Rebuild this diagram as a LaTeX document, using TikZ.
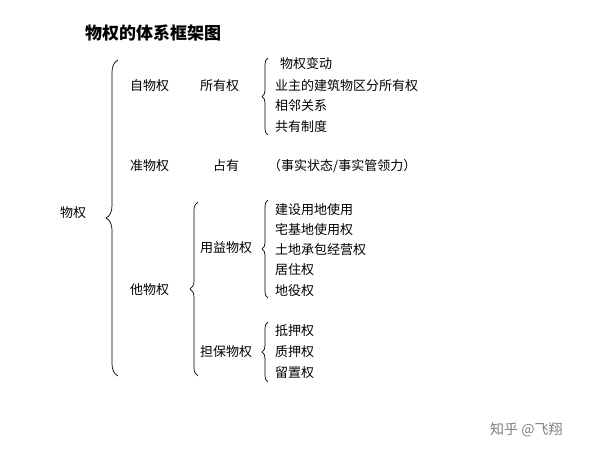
\documentclass[tikz,border=0pt]{standalone}
\usepackage{fontspec}
\setmainfont{Noto Sans CJK SC}
\usetikzlibrary{decorations.pathreplacing}
\begin{document}
\begin{tikzpicture}[x=1pt,y=-1pt,
 t/.style={anchor=west,inner sep=0,font=\fontsize{13}{15}\selectfont},
 br/.style={decorate,decoration={brace,mirror,amplitude=#1},line width=0.7pt},
 br/.default=6]
\useasboundingbox[fill=white] (0,0) rectangle (600,451);
\node[t,font=\fontsize{17}{19}\selectfont\bfseries] (title) at (85,33) {物权的体系框架图};
\draw[br=12] (118,60) -- (118,376);
\node[t] (wq) at (60,213) {物权};
\node[t] (zwq) at (130,86) {自物权};
\node[t] (syq) at (200,86) {所有权};
\draw[br] (268,58) -- (268,135);
\node[t] (a1) at (280,64) {物权变动};
\node[t] (a2) at (275,86) {业主的建筑物区分所有权};
\node[t] (a3) at (275,106) {相邻关系};
\node[t] (a4) at (275,127) {共有制度};
\node[t] (zhwq) at (130,166) {准物权};
\node[t] (zy) at (213,166) {占有};
\node[t] (sz) at (268,166) {（事实状态/事实管领力）};
\node[t] (twq) at (130,290) {他物权};
\draw[br=8] (198,202) -- (198,376);
\node[t] (yy) at (200,248) {用益物权};
\draw[br] (268,200) -- (268,298);
\node[t] (b1) at (275,210) {建设用地使用};
\node[t] (b2) at (275,230) {宅基地使用权};
\node[t] (b3) at (275,250) {土地承包经营权};
\node[t] (b4) at (275,270) {居住权};
\node[t] (b5) at (275,291) {地役权};
\node[t] (db) at (200,352) {担保物权};
\draw[br] (268,322) -- (268,382);
\node[t] (c1) at (275,331) {抵押权};
\node[t] (c2) at (275,352) {质押权};
\node[t] (c3) at (275,373) {留置权};
\node[t,text=gray,font=\fontsize{14}{16}\selectfont] (wm) at (490,430) {知乎 @飞翔};
\end{tikzpicture}
\end{document}
